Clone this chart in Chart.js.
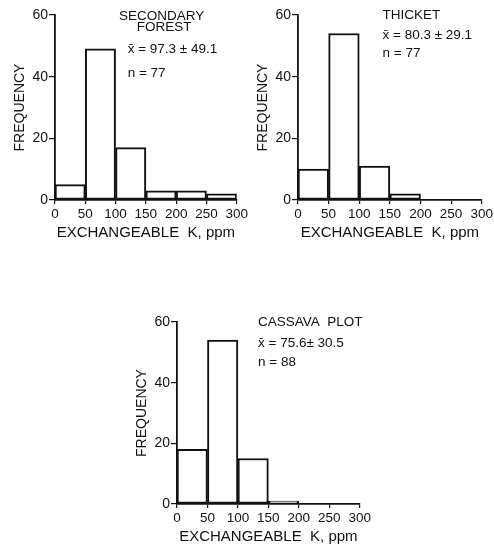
<!DOCTYPE html>
<html>
<head>
<meta charset="utf-8">
<script src="https://cdn.jsdelivr.net/npm/chart.js@4/dist/chart.umd.min.js"></script>
<style>
  html, body { margin: 0; padding: 0; background: #fff; }
  body { width: 494px; height: 544px; position: relative; overflow: hidden; }
  .panel { position: absolute; }
</style>
</head>
<body>
<div class="panel" id="p1" style="left:0px;top:0px;width:250px;height:244px"><canvas id="c1"></canvas></div>
<div class="panel" id="p2" style="left:243px;top:0px;width:252px;height:244px"><canvas id="c2"></canvas></div>
<div class="panel" id="p3" style="left:122px;top:307px;width:251px;height:241px"><canvas id="c3"></canvas></div>
<script>
// histogram bins (ppm), 50 wide
const binStarts = [0, 50, 100, 150, 200, 250];
const binWidth = 50;
const xTicks = [0, 50, 100, 150, 200, 250, 300];
const yTicks = [0, 20, 40, 60];

// frequencies
const secondaryForest = [5, 49, 17, 3, 3, 2];
const thicket = [10, 54, 11, 2, 0, 0];
const cassavaPlot = [18, 54, 15, 1, 0, 0];

const secondaryText = ["SECONDARY", "FOREST", "x̄ = 97.3 ± 49.1", "n = 77"];
const thicketText = ["THICKET", "x̄ = 80.3 ± 29.1", "n = 77"];
const cassavaText = ["CASSAVA  PLOT", "x̄ = 75.6± 30.5", "n = 88"];

const ink = "#111";
const fontFam = "'Liberation Sans', Arial, sans-serif";

// writes the little notes inside the plot, anchored to data values
const notesPlugin = {
  id: "notes",
  afterDraw(chart, args, opts) {
    const ctx = chart.ctx;
    const xs = chart.scales.x, ys = chart.scales.y;
    ctx.save();
    ctx.fillStyle = ink;
    ctx.font = "13.5px " + fontFam;
    ctx.textBaseline = "middle";
    opts.items.forEach(it => {
      ctx.textAlign = it.align || "left";
      ctx.fillText(it.text, xs.getPixelForValue(it.x), ys.getPixelForValue(it.y));
    });
    ctx.restore();
  }
};

function makeHist(id, values, notes) {
  new Chart(document.getElementById(id), {
    type: "bar",
    data: {
      datasets: [{
        data: binStarts.map((s, i) => ({ x: s + binWidth / 2, y: values[i] })),
        backgroundColor: "#fff",
        borderColor: ink,
        borderWidth: 2,
        borderSkipped: false,
        barPercentage: 1,
        categoryPercentage: 1
      }]
    },
    options: {
      responsive: true,
      maintainAspectRatio: false,
      animation: false,
      layout: { padding: { top: 15, right: 13, left: 0, bottom: 0 } },
      plugins: {
        legend: { display: false },
        tooltip: { enabled: false },
        notes: { items: notes }
      },
      scales: {
        x: {
          type: "linear",
          offset: false,
          min: 0, max: 300,
          afterBuildTicks: s => { s.ticks = xTicks.map(v => ({ value: v })); },
          afterFit: s => { s.height = 44; },
          ticks: { color: ink, font: { family: fontFam, size: 13.5 }, padding: 2, maxRotation: 0, autoSkip: false },
          grid: { drawOnChartArea: false, offset: false, tickLength: 4, color: ink, lineWidth: 1.2 },
          border: { color: ink, width: 1.8 },
          title: { display: true, text: "EXCHANGEABLE  K, ppm", color: ink, font: { family: fontFam, size: 15 }, padding: { top: 2, bottom: 2 } }
        },
        y: {
          min: 0, max: 60,
          afterBuildTicks: s => { s.ticks = yTicks.map(v => ({ value: v })); },
          afterFit: s => { s.width = 55; },
          ticks: { color: ink, font: { family: fontFam, size: 14 }, padding: 1 },
          grid: { drawOnChartArea: false, tickLength: 6, color: ink, lineWidth: 1.2 },
          border: { color: ink, width: 1.8 },
          title: { display: true, text: "FREQUENCY", color: ink, font: { family: fontFam, size: 14 }, padding: { top: 12, bottom: 0 } }
        }
      }
    },
    plugins: [notesPlugin]
  });
}

makeHist("c1", secondaryForest, [
  { text: secondaryText[0], x: 176, y: 59.7, align: "center" },
  { text: secondaryText[1], x: 180, y: 56.1, align: "center" },
  { text: secondaryText[2], x: 120, y: 49.0 },
  { text: secondaryText[3], x: 120, y: 41.2 }
]);
makeHist("c2", thicket, [
  { text: thicketText[0], x: 138, y: 60 },
  { text: thicketText[1], x: 138, y: 53.5 },
  { text: thicketText[2], x: 138, y: 47.7 }
]);
makeHist("c3", cassavaPlot, [
  { text: cassavaText[0], x: 133, y: 60 },
  { text: cassavaText[1], x: 133, y: 53.1 },
  { text: cassavaText[2], x: 133, y: 46.6 }
]);
</script>
</body>
</html>
